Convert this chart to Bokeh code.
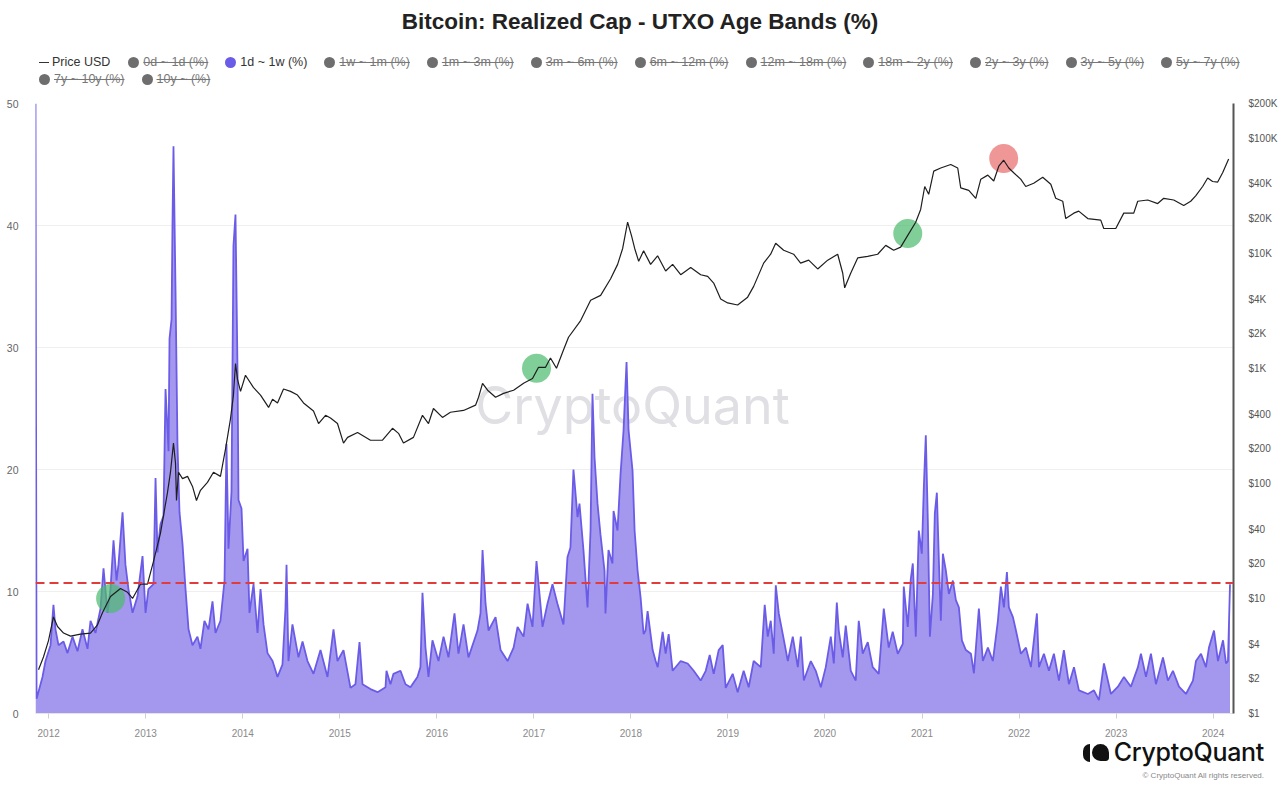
from bokeh.plotting import figure
from bokeh.models import (Range1d, LogScale, LogAxis, FixedTicker, Span, Label,
                          CustomJSTickFormatter, Div, ColumnDataSource)
from bokeh.layouts import column
from bokeh.embed import file_html
from bokeh.resources import INLINE

# ---------------- data ----------------
title_text = "Bitcoin: Realized Cap - UTXO Age Bands (%)"

year_ticks = [2012, 2013, 2014, 2015, 2016, 2017, 2018, 2019, 2020, 2021, 2022, 2023, 2024]
pct_ticks = [0, 10, 20, 30, 40, 50]
price_ticks = [1, 2, 4, 10, 20, 40, 100, 200, 400, 1000, 2000, 4000,
               10000, 20000, 40000, 100000, 200000]

# 1d ~ 1w (%) share of realized cap, by decimal year
pct_dates = [
    2011.864, 2011.875, 2011.936, 2011.967, 2012.019, 2012.049, 2012.070, 2012.101, 2012.153, 2012.194,
    2012.245, 2012.297, 2012.348, 2012.400, 2012.431, 2012.482, 2012.534, 2012.565, 2012.606, 2012.637,
    2012.668, 2012.699, 2012.719, 2012.761, 2012.791, 2012.822, 2012.864, 2012.915, 2012.967, 2012.998,
    2013.028, 2013.080, 2013.101, 2013.121, 2013.152, 2013.183, 2013.204, 2013.235, 2013.245, 2013.266,
    2013.276, 2013.286, 2013.307, 2013.327, 2013.348, 2013.379, 2013.410, 2013.441, 2013.482, 2013.533,
    2013.564, 2013.605, 2013.647, 2013.688, 2013.719, 2013.770, 2013.812, 2013.832, 2013.853, 2013.884,
    2013.904, 2013.925, 2013.946, 2013.956, 2013.987, 2014.008, 2014.049, 2014.069, 2014.111, 2014.152,
    2014.183, 2014.214, 2014.255, 2014.307, 2014.358, 2014.409, 2014.440, 2014.451, 2014.471, 2014.512,
    2014.574, 2014.616, 2014.667, 2014.729, 2014.801, 2014.873, 2014.935, 2014.976, 2015.038, 2015.110,
    2015.161, 2015.203, 2015.234, 2015.316, 2015.389, 2015.471, 2015.481, 2015.522, 2015.553, 2015.625,
    2015.677, 2015.728, 2015.800, 2015.831, 2015.852, 2015.883, 2015.914, 2015.955, 2016.017, 2016.069,
    2016.120, 2016.182, 2016.223, 2016.275, 2016.326, 2016.419, 2016.450, 2016.471, 2016.502, 2016.533,
    2016.605, 2016.657, 2016.729, 2016.791, 2016.832, 2016.894, 2016.935, 2016.986, 2017.027, 2017.089,
    2017.140, 2017.192, 2017.243, 2017.305, 2017.346, 2017.377, 2017.408, 2017.450, 2017.470, 2017.511,
    2017.553, 2017.584, 2017.604, 2017.625, 2017.656, 2017.686, 2017.728, 2017.738, 2017.769, 2017.810,
    2017.821, 2017.862, 2017.893, 2017.924, 2017.955, 2017.976, 2018.017, 2018.038, 2018.069, 2018.100,
    2018.131, 2018.151, 2018.172, 2018.224, 2018.255, 2018.276, 2018.327, 2018.358, 2018.389, 2018.430,
    2018.513, 2018.585, 2018.647, 2018.719, 2018.771, 2018.812, 2018.853, 2018.905, 2018.946, 2018.977,
    2019.049, 2019.100, 2019.162, 2019.214, 2019.265, 2019.338, 2019.379, 2019.410, 2019.441, 2019.472,
    2019.493, 2019.524, 2019.565, 2019.617, 2019.668, 2019.720, 2019.751, 2019.782, 2019.854, 2019.905,
    2019.957, 2020.008, 2020.060, 2020.091, 2020.122, 2020.142, 2020.183, 2020.214, 2020.266, 2020.317,
    2020.348, 2020.389, 2020.441, 2020.492, 2020.554, 2020.606, 2020.657, 2020.698, 2020.750, 2020.802,
    2020.812, 2020.853, 2020.884, 2020.905, 2020.936, 2020.967, 2020.998, 2021.019, 2021.039, 2021.060,
    2021.081, 2021.112, 2021.132, 2021.153, 2021.174, 2021.194, 2021.215, 2021.246, 2021.277, 2021.318,
    2021.349, 2021.380, 2021.411, 2021.452, 2021.504, 2021.535, 2021.586, 2021.627, 2021.679, 2021.730,
    2021.782, 2021.813, 2021.844, 2021.875, 2021.895, 2021.937, 2021.968, 2022.019, 2022.071, 2022.122,
    2022.184, 2022.205, 2022.256, 2022.308, 2022.359, 2022.411, 2022.462, 2022.514, 2022.566, 2022.617,
    2022.710, 2022.772, 2022.823, 2022.875, 2022.947, 2023.019, 2023.081, 2023.153, 2023.225, 2023.256,
    2023.308, 2023.359, 2023.411, 2023.483, 2023.534, 2023.586, 2023.648, 2023.720, 2023.792, 2023.823,
    2023.875, 2023.926, 2023.957, 2024.009, 2024.050, 2024.102, 2024.133, 2024.153, 2024.174,
]
pct_1d_1w = [
    50.0, 1.2, 3.0, 4.3, 5.6, 8.9, 6.9, 5.6, 5.9, 4.95,
    6.3, 5.1, 6.9, 5.3, 7.6, 6.6, 8.6, 11.9, 8.25, 10.2,
    14.2, 10.9, 12.2, 16.5, 12.2, 10.2, 8.25, 9.6, 12.9, 8.25,
    10.2, 10.6, 19.3, 13.2, 15.5, 16.2, 26.6, 21.5, 30.7, 32.3,
    40.3, 46.5, 34.7, 22.1, 16.5, 13.9, 10.2, 6.9, 5.6, 6.3,
    5.3, 7.6, 6.9, 9.2, 6.6, 7.6, 10.9, 22.1, 13.5, 18.2,
    38.3, 40.9, 28.1, 17.5, 16.8, 12.5, 13.5, 8.25, 10.6, 6.6,
    10.2, 7.3, 4.95, 4.3, 3.0, 4.0, 8.6, 12.2, 4.3, 7.3,
    4.6, 5.9, 4.3, 3.25, 5.2, 3.0, 6.9, 4.3, 5.2, 2.1,
    2.4, 5.85, 2.4, 2.0, 1.75, 2.15, 3.5, 2.4, 3.25, 3.5,
    2.4, 2.15, 3.0, 3.8, 9.9, 5.4, 3.0, 6.0, 4.3, 6.3,
    4.6, 8.2, 4.9, 7.3, 4.6, 6.8, 8.2, 13.4, 9.0, 6.8,
    7.9, 5.2, 4.3, 5.4, 7.1, 6.3, 9.0, 7.1, 12.5, 7.1,
    9.0, 10.6, 9.0, 7.3, 12.8, 13.6, 20.0, 16.1, 17.2, 13.4,
    8.7, 15.0, 26.2, 21.0, 17.2, 14.7, 11.7, 8.2, 13.4, 12.3,
    16.6, 15.0, 19.6, 23.2, 28.8, 23.2, 19.9, 15.0, 11.7, 9.5,
    6.5, 6.8, 8.4, 5.2, 4.3, 3.8, 6.7, 4.9, 6.5, 3.5,
    4.3, 4.1, 3.5, 2.7, 3.5, 4.8, 3.25, 5.2, 5.6, 2.1,
    3.25, 1.75, 3.5, 2.15, 4.3, 3.8, 8.9, 6.3, 7.6, 4.9,
    10.5, 8.2, 6.5, 4.3, 6.3, 3.8, 6.3, 2.7, 4.3, 3.5,
    2.15, 3.8, 6.3, 4.1, 9.1, 6.8, 4.6, 7.2, 3.5, 2.7,
    7.6, 4.9, 5.85, 3.8, 3.25, 8.6, 5.4, 6.7, 4.9, 5.7,
    10.4, 7.1, 11.0, 12.3, 6.3, 15.0, 13.1, 18.6, 22.8, 15.8,
    6.3, 9.8, 16.4, 18.1, 12.5, 7.6, 13.1, 11.7, 9.8, 10.9,
    9.3, 8.7, 6.0, 5.2, 4.9, 3.3, 8.6, 4.3, 5.4, 4.3,
    7.6, 10.4, 8.7, 11.6, 8.7, 7.9, 6.8, 4.9, 5.4, 3.8,
    8.2, 3.8, 4.9, 3.5, 4.9, 2.7, 5.2, 2.4, 3.8, 1.9,
    1.6, 1.9, 1.1, 4.1, 1.6, 2.2, 3.0, 2.2, 3.8, 4.9,
    3.0, 4.9, 2.4, 4.6, 2.7, 3.5, 2.2, 1.6, 2.7, 4.3,
    4.9, 3.8, 5.4, 6.8, 4.3, 6.0, 4.1, 4.3, 10.6,
]

# Price USD (right log axis)
price_dates = [
    2011.895, 2011.946, 2011.998, 2012.049, 2012.091, 2012.153, 2012.225, 2012.328, 2012.431, 2012.503,
    2012.554, 2012.637, 2012.740, 2012.812, 2012.864, 2012.946, 2013.018, 2013.080, 2013.152, 2013.224,
    2013.255, 2013.286, 2013.307, 2013.317, 2013.338, 2013.379, 2013.431, 2013.482, 2013.523, 2013.564,
    2013.636, 2013.698, 2013.770, 2013.822, 2013.873, 2013.904, 2013.925, 2013.946, 2013.977, 2014.028,
    2014.111, 2014.183, 2014.266, 2014.307, 2014.358, 2014.420, 2014.492, 2014.564, 2014.626, 2014.729,
    2014.781, 2014.853, 2014.904, 2014.976, 2015.038, 2015.080, 2015.183, 2015.316, 2015.440, 2015.543,
    2015.605, 2015.656, 2015.759, 2015.852, 2015.914, 2015.965, 2016.058, 2016.140, 2016.275, 2016.399,
    2016.430, 2016.471, 2016.523, 2016.605, 2016.688, 2016.791, 2016.894, 2016.986, 2017.048, 2017.120,
    2017.171, 2017.233, 2017.305, 2017.357, 2017.482, 2017.585, 2017.688, 2017.791, 2017.863, 2017.915,
    2017.966, 2018.008, 2018.039, 2018.080, 2018.131, 2018.203, 2018.275, 2018.358, 2018.430, 2018.513,
    2018.616, 2018.719, 2018.791, 2018.853, 2018.925, 2018.997, 2019.100, 2019.203, 2019.265, 2019.368,
    2019.440, 2019.492, 2019.574, 2019.677, 2019.749, 2019.832, 2019.925, 2020.028, 2020.131, 2020.183,
    2020.203, 2020.265, 2020.337, 2020.440, 2020.543, 2020.626, 2020.708, 2020.780, 2020.853, 2020.935,
    2020.986, 2021.028, 2021.069, 2021.121, 2021.193, 2021.296, 2021.368, 2021.399, 2021.482, 2021.554,
    2021.606, 2021.678, 2021.739, 2021.791, 2021.842, 2021.894, 2021.945, 2022.017, 2022.069, 2022.151,
    2022.244, 2022.327, 2022.378, 2022.450, 2022.481, 2022.564, 2022.615, 2022.708, 2022.842, 2022.873,
    2022.997, 2023.079, 2023.182, 2023.223, 2023.326, 2023.429, 2023.491, 2023.594, 2023.697, 2023.769,
    2023.820, 2023.892, 2023.944, 2023.995, 2024.047, 2024.098, 2024.160,
]
price_usd = [
    2.4, 3.1, 4.3, 6.9, 5.7, 5.0, 4.7, 4.9, 5.0, 5.9,
    7.5, 10.4, 12.2, 11.3, 10.0, 13.3, 13.3, 21, 37, 83,
    125, 224, 149, 71, 125, 110, 115, 94, 71, 87,
    102, 125, 115, 198, 362, 585, 1100, 800, 630, 870,
    680, 585, 457, 537, 500, 660, 630, 585, 500, 425,
    331, 390, 370, 331, 224, 251, 277, 237, 237, 301,
    272, 224, 251, 390, 331, 447, 374, 415, 430, 478,
    560, 740, 645, 560, 605, 645, 740, 815, 1020, 1020,
    1230, 1000, 1440, 1860, 2600, 3900, 4300, 6000, 8000, 11000,
    18600, 14000, 11000, 8500, 10500, 8000, 9500, 7000, 8000, 6500,
    7500, 6500, 6300, 5500, 4000, 3700, 3550, 4150, 5150, 8200,
    9800, 12200, 10600, 9800, 8200, 8700, 7300, 8700, 9800, 6700,
    5000, 6700, 9100, 9400, 9800, 11700, 10600, 11300, 14300, 18600,
    24000, 38000, 32500, 51700, 55000, 59000, 55000, 37000, 35200, 30000,
    44000, 47700, 42400, 57000, 64300, 55000, 50000, 44000, 38000, 40600,
    45700, 39700, 30000, 28300, 20000, 22300, 23200, 20000, 19400, 16400,
    16400, 22300, 22300, 28300, 29000, 27000, 30000, 29000, 26000, 28300,
    31500, 38000, 45000, 42000, 41500, 50000, 66000,
]

# highlighted price points (circles)
mark_dates = [2012.638, 2017.027, 2020.853, 2021.842]
mark_prices = [10, 1000, 14800, 66500]
mark_kind = ["green", "green", "green", "red"]

threshold_pct = 10.7

legend_labels = ["0d ~ 1d (%)", "1d ~ 1w (%)", "1w ~ 1m (%)", "1m ~ 3m (%)", "3m ~ 6m (%)",
                 "6m ~ 12m (%)", "12m ~ 18m (%)", "18m ~ 2y (%)", "2y ~ 3y (%)", "3y ~ 5y (%)",
                 "5y ~ 7y (%)", "7y ~ 10y (%)", "10y ~ (%)"]
legend_active = "1d ~ 1w (%)"

# ---------------- styles ----------------
FONT = "Liberation Sans"
PURPLE_FILL = "#a497ee"
PURPLE_LINE = "#6b5ce7"
kind_color = {"green": "#4cbb6c", "red": "#e8696b"}
W = 1280

# ---------------- header (title + legend) ----------------
items = ['<div style="display:flex;align-items:center;margin-right:18px;">'
         '<span style="display:inline-block;width:10px;height:1.5px;background:#333;margin-right:3px;"></span>'
         '<span style="color:#333;">Price USD</span></div>']
for lab in legend_labels:
    active = lab == legend_active
    dot = PURPLE_LINE if active else "#6e6e6e"
    txt_style = "color:#333;" if active else "color:#777;text-decoration:line-through;"
    items.append('<div style="display:flex;align-items:center;margin-right:17px;">'
                 f'<span style="display:inline-block;width:11px;height:11px;border-radius:50%;background:{dot};margin-right:4px;"></span>'
                 f'<span style="{txt_style}">{lab}</span></div>')

header_html = (
    f'<div style="position:relative;width:{W}px;height:95px;font-family:\'{FONT}\',Arial,sans-serif;">'
    f'<div style="position:absolute;left:0;top:9px;width:{W}px;text-align:center;font-size:22.5px;'
    f'font-weight:bold;color:#222;line-height:26px;">{title_text}</div>'
    '<div style="position:absolute;left:39px;top:55px;width:1235px;display:flex;flex-wrap:wrap;'
    'row-gap:2px;font-size:12.5px;line-height:15px;">' + "".join(items) + '</div></div>'
)
header = Div(text=header_html, width=W, height=95, margin=(0, 0, 0, 0))

# ---------------- main figure ----------------
p = figure(width=W, height=648, x_range=Range1d(2011.864, 2024.21), y_range=Range1d(0, 50),
           output_backend="svg", toolbar_location=None,
           min_border_left=35, min_border_right=47, min_border_top=8, min_border_bottom=30,
           background_fill_color="white", border_fill_color="white", margin=(0, 0, 0, 0))
p.outline_line_color = None
p.extra_y_ranges = {"price": Range1d(1, 200000)}
p.extra_y_scales = {"price": LogScale()}

p.xgrid.visible = False
p.ygrid.ticker = FixedTicker(ticks=[10, 20, 30, 40])
p.ygrid.grid_line_color = "#efefef"

# x axis
xa = p.xaxis[0]
xa.ticker = FixedTicker(ticks=year_ticks)
xa.axis_line_color = "#e4e4e4"
xa.major_tick_line_color = "#cfcfcf"
xa.major_tick_out = 5
xa.major_tick_in = 0
xa.minor_tick_line_color = None
xa.major_label_text_font = FONT
xa.major_label_text_font_size = "10px"
xa.major_label_text_color = "#8a8a8a"
xa.major_label_standoff = 10

# left axis
ya = p.yaxis[0]
ya.ticker = FixedTicker(ticks=pct_ticks)
ya.axis_line_color = None
ya.major_tick_line_color = None
ya.minor_tick_line_color = None
ya.major_label_text_font = FONT
ya.major_label_text_font_size = "10.5px"
ya.major_label_text_color = "#666666"
ya.major_label_standoff = 11

# right log price axis
ra = LogAxis(y_range_name="price", ticker=FixedTicker(ticks=price_ticks),
             formatter=CustomJSTickFormatter(
                 code="return tick >= 1000 ? '$' + Math.round(tick/1000) + 'K' : '$' + Math.round(tick);"))
ra.axis_line_color = "#555555"
ra.axis_line_width = 2
ra.major_tick_line_color = None
ra.minor_tick_line_color = None
ra.major_label_text_font = FONT
ra.major_label_text_font_size = "10px"
ra.major_label_text_color = "#555555"
ra.major_label_standoff = 9
p.add_layout(ra, "right")

# watermark
p.add_layout(Label(x=2018.016, y=25.25, text="CryptoQuant", text_font="Inter", text_font_size="52px",
                   text_color="#dfdfe4", text_align="center", text_baseline="middle", level="underlay"))

# series
src = ColumnDataSource(dict(x=pct_dates, y=pct_1d_1w))
p.varea(x="x", y1=0, y2="y", source=src, fill_color=PURPLE_FILL, fill_alpha=1.0)
p.line(x="x", y="y", source=src, line_color=PURPLE_LINE, line_width=1.8)

p.add_layout(Span(location=threshold_pct, dimension="width", line_color="#e03c3c",
                  line_width=2, line_dash="9 5"))

msrc = ColumnDataSource(dict(x=mark_dates, y=mark_prices, c=[kind_color[k] for k in mark_kind]))
p.scatter(x="x", y="y", source=msrc, y_range_name="price", size=29, fill_color="c",
          fill_alpha=0.7, line_color=None)

psrc = ColumnDataSource(dict(x=price_dates, y=price_usd))
p.line(x="x", y="y", source=psrc, y_range_name="price", line_color="#1e1e1e", line_width=1.2)

# ---------------- footer (logo) ----------------
footer_html = (
    f'<div style="position:relative;width:{W}px;height:43px;">'
    '<div style="position:absolute;right:16px;top:-8px;display:flex;align-items:center;">'
    '<span style="display:inline-block;width:7px;height:18px;background:#111;border-radius:9px 0 0 9px;margin-right:2px;"></span>'
    '<span style="display:inline-block;width:17px;height:17px;background:#111;border-radius:50% 50% 20% 50%;margin-right:5px;"></span>'
    '<span style="font-family:Inter,sans-serif;font-size:25px;font-weight:500;color:#111;letter-spacing:-0.3px;">CryptoQuant</span>'
    '</div>'
    f'<div style="position:absolute;right:16px;top:27px;font-family:\'{FONT}\',Arial,sans-serif;font-size:8px;color:#888;">'
    '© CryptoQuant All rights reserved.</div></div>'
)
footer = Div(text=footer_html, width=W, height=43, margin=(0, 0, 0, 0))

layout = column(header, p, footer, spacing=0)
open("out.html", "w").write(file_html(layout, INLINE))
